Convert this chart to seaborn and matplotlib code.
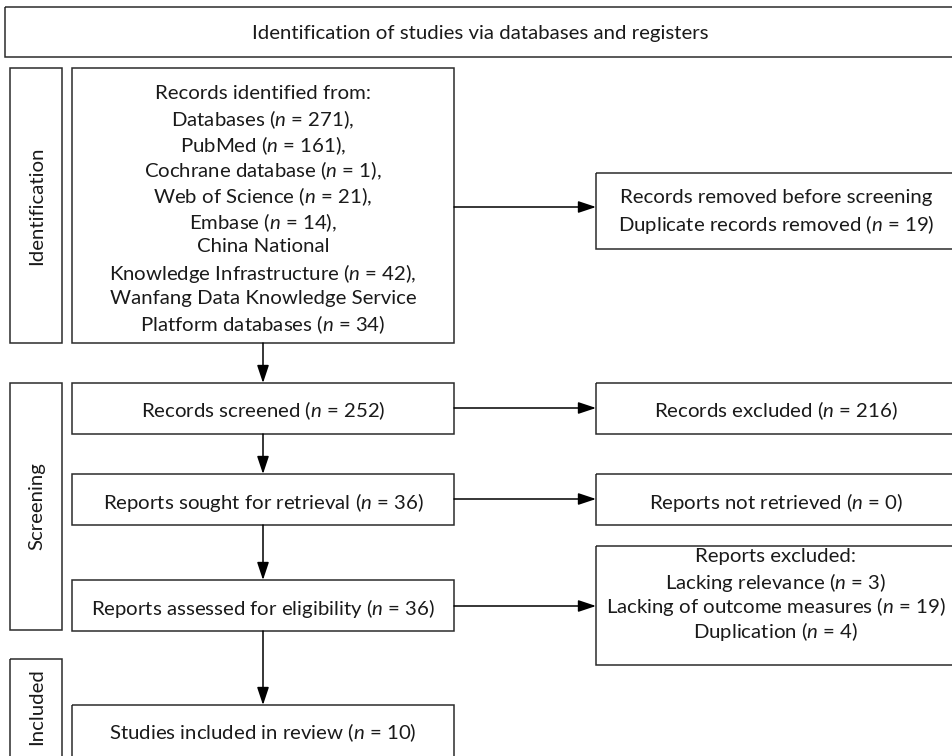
import matplotlib
matplotlib.use("Agg")
import matplotlib.pyplot as plt
import seaborn as sns
from matplotlib.patches import Rectangle

# Data: PRISMA counts
source_names = ["Databases", "PubMed", "Cochrane database", "Web of Science", "Embase",
                "China National\nKnowledge Infrastructure", "Wanfang Data Knowledge Service\nPlatform databases"]
source_counts = [271, 161, 1, 21, 14, 42, 34]
removed_duplicates = 19
screened = 252
excluded = 216
sought = 36
not_retrieved = 0
assessed = 36
excl_reasons = ["Lacking relevance", "Lacking of outcome measures", "Duplication"]
excl_counts = [3, 19, 4]
included = 10
phases = ["Identification", "Screening", "Included"]

sns.set_theme(style="white")
plt.rcParams["font.family"] = ["Lato", "DejaVu Sans"]
plt.rcParams["mathtext.fontset"] = "custom"
plt.rcParams["mathtext.rm"] = "Lato"
plt.rcParams["mathtext.it"] = "Lato:italic"

EDGE = "#2b2b2b"
FS = 14.7


def n_txt(label, n):
    return f"{label} ($n$ = {n})"


fig = plt.figure(figsize=(9.53, 7.56), dpi=100)
ax = fig.add_axes([0, 0, 1, 1])
ax.set_xlim(0, 953)
ax.set_ylim(756, 0)
ax.axis("off")


def box(x0, y0, x1, y1, lines=None, ty=None, step=25.5):
    ax.add_patch(Rectangle((x0, y0), x1 - x0, y1 - y0, fill=False, ec=EDGE, lw=1.1))
    if not lines:
        return
    if isinstance(lines, str):
        lines = [lines]
    yc = ty if ty else (y0 + y1) / 2
    first = yc - step * (len(lines) - 1) / 2
    for i, ln in enumerate(lines):
        ax.text((x0 + x1) / 2, first + i * step, ln, ha="center", va="center_baseline",
                fontsize=FS, color="#1a1a1a")


def side(x0, y0, x1, y1, label, ty=None):
    ax.add_patch(Rectangle((x0, y0), x1 - x0, y1 - y0, fill=False, ec=EDGE, lw=1.1))
    ax.text((x0 + x1) / 2 + 1, ty if ty else (y0 + y1) / 2, label, ha="center", va="center",
            rotation=90, fontsize=FS, color="#1a1a1a")


def arrow(x0, y0, x1, y1):
    ax.annotate("", xy=(x1, y1), xytext=(x0, y0),
                arrowprops=dict(arrowstyle="-|>,head_length=0.9,head_width=0.3",
                                color="black", lw=1.1, shrinkA=0, shrinkB=0))


# header
box(5, 7, 956, 57, "Identification of studies via databases and registers")

# phase side boxes
side(10, 68, 62, 343, phases[0])
side(10, 383, 62, 630, phases[1])
side(10, 659, 62, 760, phases[2], ty=707)

# left column
ident_lines = ["Records identified from:"]
for nm, c in zip(source_names, source_counts):
    tail = "," if nm != source_names[-1] else ""
    if "\n" in nm:
        a, b = nm.split("\n")
        ident_lines += [a, n_txt(b, c) + tail]
    else:
        ident_lines.append(n_txt(nm, c) + tail)
box(72, 68, 454, 343, ident_lines, ty=207, step=25.6)
box(72, 383, 454, 434, n_txt("Records screened", screened))
box(72, 474, 454, 525, n_txt("Reports sought for retrieval", sought))
box(72, 580, 454, 631, n_txt("Reports assessed for eligibility", assessed))
box(72, 705, 454, 770, n_txt("Studies included in review", included), ty=730)

# right column
box(596, 173, 956, 249, ["Records removed before screening",
                         n_txt("Duplicate records removed", removed_duplicates)], ty=209, step=27)
box(596, 383, 956, 434, n_txt("Records excluded", excluded))
box(596, 474, 956, 525, n_txt("Reports not retrieved", not_retrieved))
excl_lines = ["Reports excluded:"] + [n_txt(r, c) for r, c in zip(excl_reasons, excl_counts)]
box(596, 546, 956, 665, excl_lines, ty=592, step=24.5)

# arrows
cx = 263
arrow(cx, 343, cx, 383)
arrow(cx, 434, cx, 474)
arrow(cx, 525, cx, 580)
arrow(cx, 631, cx, 705)
arrow(454, 207, 596, 207)
arrow(454, 408, 596, 408)
arrow(454, 499, 596, 499)
arrow(454, 606, 596, 606)

fig.savefig("out.png", dpi=100, facecolor="white")
